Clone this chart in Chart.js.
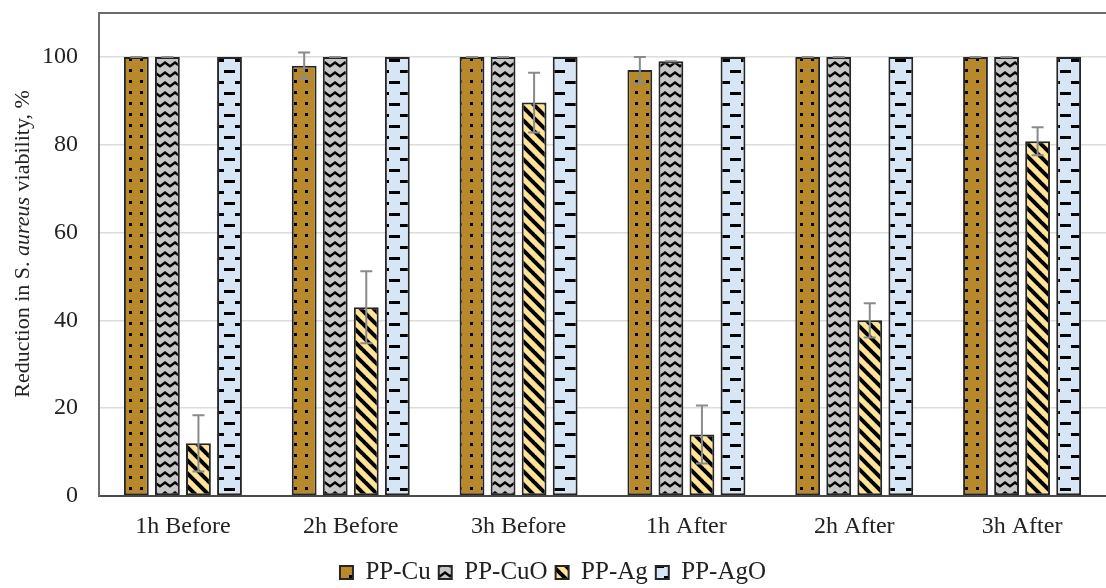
<!DOCTYPE html>
<html>
<head>
<meta charset="utf-8">
<script src="https://cdn.jsdelivr.net/npm/chart.js@4.4.1/dist/chart.umd.min.js"></script>
<style>
  html, body { margin: 0; padding: 0; background: #fff; }
  #wrap { width: 1106px; height: 588px; }
</style>
</head>
<body>
<div id="wrap"><canvas id="chart"></canvas></div>
<script>
// data
const categories = ['1h Before', '2h Before', '3h Before', '1h After', '2h After', '3h After'];
const seriesNames = ['PP-Cu', 'PP-CuO', 'PP-Ag', 'PP-AgO'];
const valuesCu  = [100, 98, 100, 97, 100, 100];
const valuesCuO = [100, 100, 100, 99, 100, 100];
const valuesAg  = [12, 43, 89.6, 14, 40, 80.8];
const valuesAgO = [100, 100, 100, 100, 100, 100];
const errCu  = [0, 3, 0, 3, 0, 0];
const errCuO = [0, 0, 0, 0, 0, 0];
const errAg  = [6.4, 8.2, 6.8, 6.6, 3.9, 3.2];
const errAgO = null;
const yTicks = [0, 20, 40, 60, 80, 100];

const FONT = "'Liberation Serif', 'Times New Roman', serif";

// fill patterns like the excel ones
function makePattern(bg, w, h, draw) {
    const c = document.createElement('canvas');
    c.width = w; c.height = h;
    const ctx = c.getContext('2d');
    ctx.fillStyle = bg;
    ctx.fillRect(0, 0, w, h);
    ctx.fillStyle = '#000';
    ctx.strokeStyle = '#000';
    draw(ctx);
    return ctx.createPattern(c, 'repeat');
}

const patCu = makePattern('#b8892b', 11, 11, ctx => {
    ctx.fillRect(8, 3, 3, 3);
});
const patCuO = makePattern('#c6c6c6', 10, 10, ctx => {
    ctx.lineWidth = 2.5;
    ctx.beginPath();
    ctx.moveTo(-1, 7); ctx.lineTo(5, 2.5); ctx.lineTo(11, 7);
    ctx.stroke();
});
const patAg = makePattern('#ffe497', 13, 13, ctx => {
    ctx.lineWidth = 4;
    [-13, 0, 13].forEach(o => {
        ctx.beginPath();
        ctx.moveTo(o - 1, -1); ctx.lineTo(o + 14, 14);
        ctx.stroke();
    });
});
const patAgO = makePattern('#d6e6f4', 22, 22, ctx => {
    ctx.fillRect(4, 4, 11, 3);
    ctx.fillRect(15, 15, 11, 3);
    ctx.fillRect(-7, 15, 11, 3);
});

const errors = [errCu, errCuO, errAg, errAgO];

const errorBarPlugin = {
    id: 'errorBars',
    afterDatasetsDraw(chart) {
        const ctx = chart.ctx;
        const y = chart.scales.y;
        ctx.save();
        ctx.strokeStyle = '#8a8a8a';
        ctx.lineWidth = 2;
        chart.data.datasets.forEach((ds, di) => {
            const err = errors[di];
            if (!err) return;
            chart.getDatasetMeta(di).data.forEach((bar, i) => {
                const v = ds.data[i];
                const yt = y.getPixelForValue(v + err[i]);
                const yb = y.getPixelForValue(v - err[i]);
                const half = 6;
                ctx.beginPath();
                ctx.moveTo(bar.x, yt); ctx.lineTo(bar.x, yb);
                ctx.moveTo(bar.x - half, yt); ctx.lineTo(bar.x + half, yt);
                ctx.moveTo(bar.x - half, yb); ctx.lineTo(bar.x + half, yb);
                ctx.stroke();
            });
        });
        ctx.restore();
    }
};

// plot frame top line + y title with italic species name
const framePlugin = {
    id: 'frame',
    afterDraw(chart) {
        const ctx = chart.ctx;
        const a = chart.chartArea;
        ctx.save();
        ctx.strokeStyle = '#6b6b6b';
        ctx.lineWidth = 2;
        ctx.beginPath();
        ctx.moveTo(a.left, a.top); ctx.lineTo(a.right, a.top);
        ctx.stroke();

        const parts = [
            { t: 'Reduction in S. ', f: '22px ' + FONT },
            { t: 'aureus', f: 'italic 22px ' + FONT },
            { t: ' viability, %', f: '22px ' + FONT }
        ];
        let total = 0;
        parts.forEach(p => { ctx.font = p.f; p.w = ctx.measureText(p.t).width; total += p.w; });
        ctx.translate(23, 244);
        ctx.rotate(-Math.PI / 2);
        ctx.fillStyle = '#222';
        ctx.textBaseline = 'middle';
        let x = -total / 2;
        parts.forEach(p => { ctx.font = p.f; ctx.fillText(p.t, x, 0); x += p.w; });
        ctx.restore();
    }
};

const fills = [patCu, patCuO, patAg, patAgO];
const allValues = [valuesCu, valuesCuO, valuesAg, valuesAgO];

new Chart(document.getElementById('chart'), {
    type: 'bar',
    data: {
        labels: categories,
        datasets: seriesNames.map((name, i) => ({
            label: name,
            data: allValues[i],
            backgroundColor: fills[i],
            borderColor: '#262626',
            borderWidth: 2,
            borderSkipped: false,
            categoryPercentage: 0.74,
            barPercentage: 0.8
        }))
    },
    options: {
        responsive: true,
        maintainAspectRatio: false,
        animation: false,
        layout: { padding: { top: 13, right: 0, bottom: -7, left: 0 } },
        scales: {
            x: {
                grid: { display: false },
                border: { color: '#4a4a4a', width: 2 },
                ticks: { color: '#222', font: { family: FONT, size: 24 }, padding: 8 },
                afterFit(scale) { scale.height = 56; }
            },
            y: {
                min: 0,
                max: 110,
                afterBuildTicks(scale) { scale.ticks = yTicks.map(v => ({ value: v })); },
                grid: { color: '#dcdcdc', lineWidth: 1.5, drawTicks: false },
                border: { color: '#6b6b6b', width: 2 },
                ticks: { color: '#222', font: { family: FONT, size: 24 }, padding: 21 },
                afterFit(scale) {
                    scale.width = 99;
                    scale.paddingTop = 0;
                    scale.paddingBottom = 0;
                }
            }
        },
        plugins: {
            legend: {
                position: 'bottom',
                labels: {
                    color: '#222',
                    font: { family: FONT, size: 25 },
                    boxWidth: 13,
                    boxHeight: 13,
                    padding: 8
                }
            },
            tooltip: { enabled: false }
        }
    },
    plugins: [errorBarPlugin, framePlugin]
});
</script>
</body>
</html>
